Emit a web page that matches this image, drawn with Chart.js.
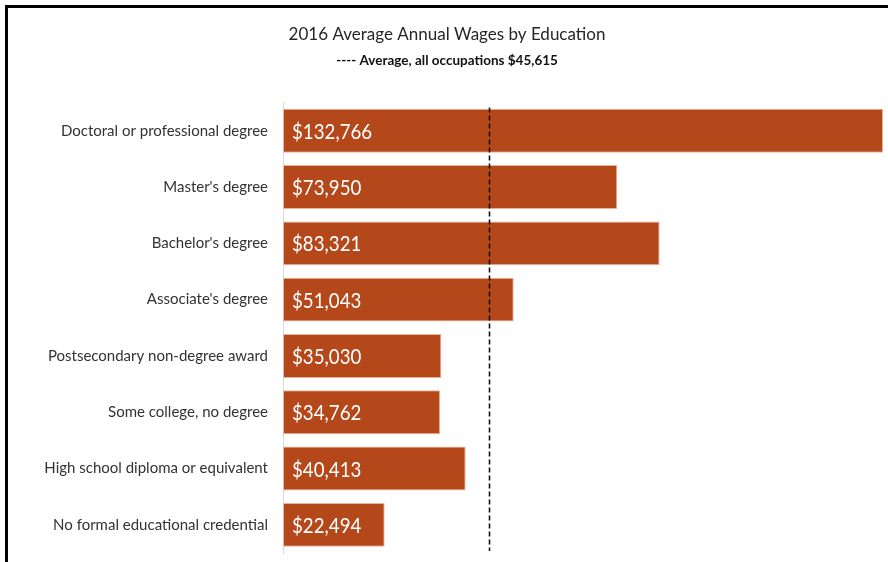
<!DOCTYPE html>
<html>
<head>
<meta charset="utf-8">
<script src="https://cdn.jsdelivr.net/npm/chart.js@4"></script>
<style>
  html, body { margin: 0; padding: 0; background: #fff; }
  .wrap { position: relative; width: 888px; height: 562px; overflow: hidden; }
  .frame { position: absolute; left: 5px; top: 5px; width: 900px; height: 600px;
           border-top: 3px solid #000; border-left: 3px solid #000; pointer-events: none; }
  canvas { position: absolute; left: 0; top: 0; }
</style>
</head>
<body>
<div class="wrap">
  <canvas id="wageChart" width="888" height="562"></canvas>
  <div class="frame"></div>
</div>
<script>
  // data
  var educationLevels = [
    "Doctoral or professional degree",
    "Master's degree",
    "Bachelor's degree",
    "Associate's degree",
    "Postsecondary non-degree award",
    "Some college, no degree",
    "High school diploma or equivalent",
    "No formal educational credential"
  ];
  var annualWages = [132766, 73950, 83321, 51043, 35030, 34762, 40413, 22494];
  var avgWage = 45615;
  var chartTitle = "2016 Average Annual Wages by Education";
  var avgLabel = "Average, all occupations";

  const face = "Lato, 'Open Sans', sans-serif";

  function money(v) {
    return "$" + v.toLocaleString("en-US");
  }

  // white value text at the start of each bar (squeezed a bit, like the original)
  const valueLabels = {
    id: "valueLabels",
    afterDatasetsDraw(chart) {
      const ctx = chart.ctx;
      const meta = chart.getDatasetMeta(0);
      ctx.save();
      ctx.font = "22px " + face;
      ctx.fillStyle = "#ffffff";
      ctx.textAlign = "left";
      ctx.textBaseline = "middle";
      meta.data.forEach((bar, i) => {
        ctx.save();
        ctx.translate(bar.base + 9, bar.y + 1);
        ctx.scale(0.85, 1);
        ctx.fillText(money(annualWages[i]), 0, 0);
        ctx.restore();
      });
      ctx.restore();
    }
  };

  // dashed line for the all-occupation average
  const avgLine = {
    id: "avgLine",
    afterDatasetsDraw(chart) {
      const ctx = chart.ctx;
      const area = chart.chartArea;
      const x = Math.round(chart.scales.x.getPixelForValue(avgWage)) + 0.5;
      ctx.save();
      ctx.strokeStyle = "#111";
      ctx.lineWidth = 1.6;
      ctx.setLineDash([5, 3]);
      ctx.beginPath();
      ctx.moveTo(x, area.top + 5);
      ctx.lineTo(x, area.bottom - 2);
      ctx.stroke();
      ctx.restore();
    }
  };

  new Chart("wageChart", {
    type: "bar",
    data: {
      labels: educationLevels,
      datasets: [{
        data: annualWages,
        backgroundColor: "#b5481a",
        borderColor: "#eeb499",
        borderWidth: 1,
        borderSkipped: false,
        categoryPercentage: 1,
        barPercentage: 0.78
      }]
    },
    options: {
      indexAxis: "y",
      responsive: false,
      animation: false,
      layout: { padding: { top: 10, left: 8, right: 2, bottom: 9 } },
      scales: {
        x: {
          display: false,
          min: 0,
          max: 133400
        },
        y: {
          grid: { display: false, drawTicks: false },
          border: { display: true, color: "#dcdcdc", width: 1 },
          ticks: {
            padding: 15,
            color: "#333",
            font: { family: face, size: 15 }
          },
          afterFit(scale) {
            scale.width = 275;
            // labels sit inside the band, no extra room needed above/below
            scale.paddingTop = 0;
            scale.paddingBottom = 0;
          }
        }
      },
      plugins: {
        legend: { display: false },
        tooltip: { enabled: false },
        title: {
          display: true,
          text: chartTitle,
          color: "#262626",
          font: { family: face, size: 17, weight: "normal", lineHeight: 1.2 },
          padding: { top: 14, bottom: 5 }
        },
        subtitle: {
          display: true,
          text: "---- " + avgLabel + " " + money(avgWage),
          color: "#111",
          font: { family: face, size: 13.5, weight: "bold", lineHeight: 1.2 },
          padding: { top: 3, bottom: 34 }
        }
      }
    },
    plugins: [valueLabels, avgLine]
  });
</script>
</body>
</html>
